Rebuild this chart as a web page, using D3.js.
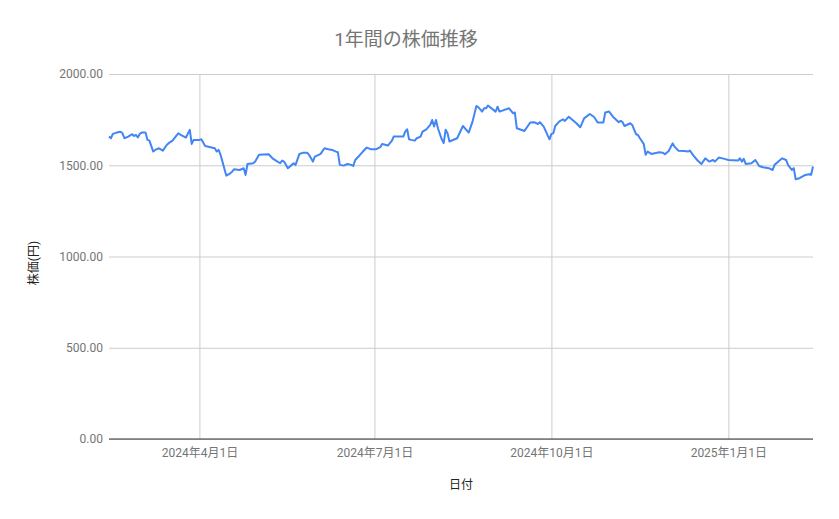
<!DOCTYPE html>
<html><head><meta charset="utf-8">
<script src="https://cdn.jsdelivr.net/npm/d3@7/dist/d3.min.js"></script>
<style>
html,body{margin:0;padding:0;background:#fff;}
text{font-family:Roboto,"Noto Sans CJK JP",sans-serif;}
</style></head>
<body><svg id="chart" width="839" height="519"></svg>
<script>
const title = "1年間の株価推移";
const xTitle = "日付";
const yTitle = "株価(円)";
const dates = ["2024-02-14","2024-02-15","2024-02-16","2024-02-18","2024-02-20","2024-02-21","2024-02-22","2024-02-24","2024-02-26","2024-02-27","2024-02-28","2024-02-29","2024-03-01","2024-03-02","2024-03-04","2024-03-05","2024-03-06","2024-03-08","2024-03-09","2024-03-11","2024-03-13","2024-03-15","2024-03-16","2024-03-18","2024-03-21","2024-03-23","2024-03-25","2024-03-27","2024-03-28","2024-03-29","2024-04-01","2024-04-02","2024-04-04","2024-04-09","2024-04-10","2024-04-11","2024-04-12","2024-04-15","2024-04-17","2024-04-18","2024-04-19","2024-04-22","2024-04-24","2024-04-25","2024-04-26","2024-04-29","2024-04-30","2024-05-02","2024-05-07","2024-05-09","2024-05-11","2024-05-13","2024-05-14","2024-05-15","2024-05-17","2024-05-19","2024-05-20","2024-05-21","2024-05-23","2024-05-25","2024-05-27","2024-05-28","2024-05-30","2024-05-31","2024-06-02","2024-06-03","2024-06-05","2024-06-07","2024-06-09","2024-06-11","2024-06-12","2024-06-13","2024-06-15","2024-06-17","2024-06-19","2024-06-20","2024-06-21","2024-06-23","2024-06-25","2024-06-27","2024-06-29","2024-07-02","2024-07-04","2024-07-05","2024-07-07","2024-07-08","2024-07-10","2024-07-11","2024-07-13","2024-07-16","2024-07-17","2024-07-18","2024-07-19","2024-07-20","2024-07-22","2024-07-23","2024-07-25","2024-07-26","2024-07-28","2024-07-30","2024-07-31","2024-08-01","2024-08-02","2024-08-03","2024-08-05","2024-08-06","2024-08-07","2024-08-08","2024-08-09","2024-08-13","2024-08-16","2024-08-19","2024-08-21","2024-08-23","2024-08-24","2024-08-26","2024-08-27","2024-08-28","2024-08-29","2024-09-02","2024-09-03","2024-09-04","2024-09-09","2024-09-11","2024-09-12","2024-09-13","2024-09-17","2024-09-20","2024-09-22","2024-09-24","2024-09-25","2024-09-27","2024-09-30","2024-10-01","2024-10-02","2024-10-03","2024-10-05","2024-10-07","2024-10-08","2024-10-10","2024-10-12","2024-10-14","2024-10-16","2024-10-18","2024-10-21","2024-10-23","2024-10-24","2024-10-25","2024-10-28","2024-10-29","2024-10-31","2024-11-02","2024-11-05","2024-11-06","2024-11-07","2024-11-08","2024-11-11","2024-11-12","2024-11-14","2024-11-15","2024-11-16","2024-11-18","2024-11-19","2024-11-20","2024-11-22","2024-11-26","2024-11-28","2024-11-29","2024-12-01","2024-12-03","2024-12-04","2024-12-06","2024-12-09","2024-12-11","2024-12-12","2024-12-14","2024-12-16","2024-12-18","2024-12-20","2024-12-22","2024-12-24","2024-12-25","2024-12-27","2024-12-30","2025-01-01","2025-01-06","2025-01-07","2025-01-08","2025-01-09","2025-01-10","2025-01-13","2025-01-15","2025-01-17","2025-01-19","2025-01-22","2025-01-24","2025-01-25","2025-01-27","2025-01-29","2025-01-31","2025-02-01","2025-02-03","2025-02-04","2025-02-05","2025-02-07","2025-02-10","2025-02-12","2025-02-13","2025-02-14"];
const prices = [1657,1648,1672,1679,1684,1675,1648,1657,1670,1661,1666,1652,1672,1679,1679,1639,1635,1575,1584,1593,1580,1611,1621,1635,1675,1662,1652,1694,1617,1639,1639,1642,1606,1593,1575,1584,1557,1443,1456,1465,1478,1474,1484,1447,1507,1511,1520,1557,1560,1538,1524,1511,1526,1520,1484,1502,1511,1502,1562,1569,1569,1557,1520,1547,1557,1562,1593,1588,1584,1575,1571,1502,1498,1507,1502,1496,1529,1551,1575,1597,1588,1588,1599,1617,1611,1608,1633,1657,1657,1657,1684,1697,1642,1639,1635,1648,1657,1684,1697,1721,1748,1712,1748,1703,1642,1622,1694,1675,1630,1648,1715,1679,1739,1825,1818,1794,1812,1812,1827,1794,1821,1794,1812,1785,1789,1703,1688,1734,1736,1726,1736,1712,1642,1672,1675,1715,1739,1752,1743,1766,1748,1730,1708,1757,1781,1766,1752,1734,1734,1789,1794,1766,1736,1743,1736,1715,1730,1721,1670,1666,1648,1617,1557,1575,1562,1571,1569,1560,1578,1620,1602,1580,1578,1575,1580,1551,1526,1507,1538,1520,1529,1520,1542,1535,1529,1526,1538,1520,1535,1507,1511,1529,1496,1489,1484,1474,1502,1520,1538,1529,1502,1474,1484,1423,1429,1447,1451,1447,1493];
const yTicks = [0,500,1000,1500,2000];
const xTickDates = ["2024-04-01","2024-07-01","2024-10-01","2025-01-01"];

const parse = d3.timeParse("%Y-%m-%d");
const data = dates.map((d,i)=>({date:parse(d), value:prices[i]}));
const svg = d3.select("#chart");
const m = {left:109, right:813, top:74, bottom:439};

const x = d3.scaleTime().domain(d3.extent(data,d=>d.date)).range([m.left,m.right]);
const y = d3.scaleLinear().domain([0,2000]).range([m.bottom,m.top]);

// horizontal grid
const yAxis = d3.axisLeft(y).tickValues(yTicks).tickFormat(d3.format(".2f")).tickSize(-(m.right-m.left)).tickPadding(6);
const gy = svg.append("g").attr("transform",`translate(${m.left},0)`).call(yAxis);
gy.select(".domain").remove();
gy.selectAll(".tick line").attr("stroke","#cccccc");
gy.selectAll(".tick text").attr("fill","#757575").style("font-size","12px");

// vertical grid + labels
const fmt = d=> `${d.getFullYear()}年${d.getMonth()+1}月${d.getDate()}日`;
const xAxis = d3.axisBottom(x).tickValues(xTickDates.map(parse)).tickFormat(fmt).tickSize(-(m.bottom-m.top)).tickPadding(9);
const gx = svg.append("g").attr("transform",`translate(0,${m.bottom})`).call(xAxis);
gx.select(".domain").remove();
gx.selectAll(".tick line").attr("stroke","#cccccc");
gx.selectAll(".tick text").attr("fill","#757575").style("font-size","12px");

// baseline
svg.append("line").attr("x1",m.left).attr("x2",m.right).attr("y1",y(0)).attr("y2",y(0))
  .attr("stroke","#333333").attr("stroke-width",1.2);

// line
const line = d3.line().x(d=>x(d.date)).y(d=>y(d.value));
svg.append("path").datum(data).attr("d",line).attr("fill","none")
  .attr("stroke","#4285f4").attr("stroke-width",2).attr("stroke-linejoin","round");

// titles
svg.append("text").attr("x",406).attr("y",46).attr("text-anchor","middle")
  .attr("fill","#757575").style("font-size","19px").text(title);
svg.append("text").attr("x",461).attr("y",489).attr("text-anchor","middle")
  .attr("fill","#222").style("font-size","12px").text(xTitle);
svg.append("text").attr("transform","translate(38,263) rotate(-90)").attr("text-anchor","middle")
  .attr("fill","#222").style("font-size","12px").text(yTitle);
</script></body></html>
